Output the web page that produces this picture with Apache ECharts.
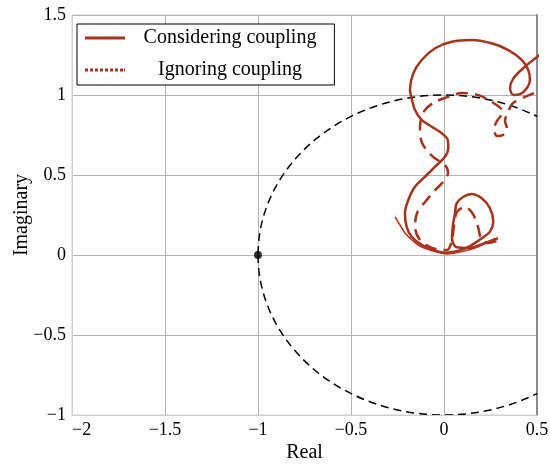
<!DOCTYPE html>
<html>
<head>
<meta charset="utf-8">
<script src="https://cdn.jsdelivr.net/npm/echarts@6/dist/echarts.min.js"></script>
<style>
	html, body { margin: 0; padding: 0; background: #fff; }
	#main { width: 550px; height: 465px; }
</style>
</head>
<body>
<div id="main"></div>
<script>
// 考虑耦合 (solid) – [real, imag]
var considering = [
	[0.559, 1.294], [0.498, 1.236], [0.435, 1.177], [0.373, 1.104], [0.355, 1.042],
	[0.373, 1.000], [0.409, 1.006], [0.445, 1.042], [0.462, 1.094], [0.453, 1.156],
	[0.418, 1.219], [0.346, 1.281], [0.256, 1.323], [0.149, 1.344], [0.041, 1.333],
	[-0.048, 1.292], [-0.120, 1.219], [-0.165, 1.136], [-0.183, 1.031], [-0.174, 0.979],
	[-0.156, 0.906], [-0.120, 0.844], [-0.066, 0.802], [-0.012, 0.761], [0.020, 0.719],
	[0.023, 0.667], [0.005, 0.614], [-0.048, 0.552], [-0.093, 0.500], [-0.156, 0.427],
	[-0.192, 0.344], [-0.210, 0.261], [-0.201, 0.177], [-0.174, 0.114], [-0.120, 0.063],
	[-0.058, 0.031], [0.005, 0.014], [0.075, 0.025], [0.140, 0.056], [0.203, 0.104],
	[0.247, 0.146], [0.265, 0.208], [0.247, 0.292], [0.203, 0.354], [0.149, 0.381],
	[0.104, 0.364], [0.068, 0.323], [0.059, 0.261], [0.048, 0.188], [0.043, 0.106],
	[0.065, 0.050], [0.140, 0.044], [0.220, 0.075], [0.290, 0.106]
];
// low tail of the solid curve
var consideringTail = [
	[-0.263, 0.239], [-0.237, 0.188], [-0.210, 0.138], [-0.172, 0.094], [-0.129, 0.056],
	[-0.048, 0.021], [0.016, 0.006], [0.097, 0.021], [0.183, 0.052], [0.274, 0.104]
];
// 忽略耦合 (dashed)
var ignoring = [
	[0.581, 1.044], [0.500, 1.019], [0.435, 0.988], [0.371, 0.950], [0.344, 0.894],
	[0.328, 0.838], [0.339, 0.788], [0.317, 0.750], [0.285, 0.744], [0.269, 0.788],
	[0.285, 0.838], [0.317, 0.894], [0.258, 0.956], [0.183, 1.000], [0.097, 1.013],
	[0.022, 0.988], [-0.059, 0.950], [-0.113, 0.888], [-0.129, 0.794], [-0.118, 0.700],
	[-0.059, 0.613], [0.005, 0.563], [0.022, 0.513], [-0.005, 0.456], [-0.048, 0.406],
	[-0.102, 0.331], [-0.145, 0.263], [-0.156, 0.175], [-0.129, 0.094], [-0.065, 0.044],
	[0.016, 0.031], [0.043, 0.094], [0.054, 0.188], [0.070, 0.269], [0.113, 0.300],
	[0.156, 0.256], [0.183, 0.175], [0.199, 0.106], [0.237, 0.075], [0.301, 0.094]
];
var criticalPoint = [[-1, 0]];
var unitCircle = [[0, 0, 1]]; // centre re, centre im, radius
var seriesNames = ['Considering coupling', 'Ignoring coupling'];

var font = 'Liberation Serif';
var red = '#a8331c';
// legend icons: solid bar and dotted bar
var solidIcon = 'path://M0,0h40v3h-40z';
var dotIcon = 'path://M0,0h3v3h-3z M5,0h3v3h-3z M10,0h3v3h-3z M15,0h3v3h-3z M20,0h3v3h-3z M25,0h3v3h-3z M30,0h3v3h-3z M35,0h3v3h-3z M39,0h1v3h-1z';

function fmt(v) {
	return String(v).replace('-', '\u2212');
}

function drawCircle(params, api) {
	var c = api.coord([api.value(0), api.value(1)]);
	var s = api.size([api.value(2), api.value(2)]);
	var rx = s[0], ry = s[1];
	var d = 'M' + (c[0] - rx) + ' ' + c[1] +
		' A' + rx + ' ' + ry + ' 0 1 0 ' + (c[0] + rx) + ' ' + c[1] +
		' A' + rx + ' ' + ry + ' 0 1 0 ' + (c[0] - rx) + ' ' + c[1] + ' Z';
	return {
		type: 'path',
		shape: { pathData: d },
		style: { fill: 'none', stroke: '#000', lineWidth: 1.5, lineDash: [8, 5] }
	};
}

var myChart = echarts.init(document.getElementById('main'));
var option = {
	animation: false,
	textStyle: { fontFamily: font },
	grid: {
		left: 72, right: 13, top: 15, bottom: 50,
		containLabel: false, outerBoundsMode: 'none',
		show: true, borderColor: '#cfcfcf', borderWidth: 1
	},
	legend: {
		left: 77, top: 24, orient: 'vertical',
		backgroundColor: '#fff', borderColor: '#000', borderWidth: 1,
		borderRadius: 0,
		padding: [4, 18, 5, 8],
		itemGap: 12, itemWidth: 40, itemHeight: 3,
		symbolKeepAspect: false,
		formatter: '{a|{name}}',
		textStyle: {
			rich: { a: { fontFamily: font, fontSize: 20, color: '#000', width: 200, align: 'center' } }
		},
		data: [
			{ name: seriesNames[0], icon: solidIcon, itemStyle: { color: red } },
			{ name: seriesNames[1], icon: dotIcon, itemStyle: { color: red } }
		]
	},
	xAxis: {
		type: 'value', min: -2, max: 0.5, interval: 0.5,
		name: 'Real', nameLocation: 'middle', nameGap: 28, nameMoveOverlap: false,
		nameTextStyle: { fontFamily: font, fontSize: 20, color: '#000' },
		axisLine: { show: true, onZero: false, lineStyle: { color: '#cfcfcf' } },
		axisTick: { show: false },
		axisLabel: { fontFamily: font, fontSize: 18, color: '#000', margin: 6,
			formatter: fmt, alignMinLabel: 'left' },
		splitLine: { lineStyle: { color: '#b4b4b4' } }
	},
	yAxis: [{
		type: 'value', min: -1, max: 1.5, interval: 0.5,
		name: 'Imaginary', nameLocation: 'middle', nameGap: 40, nameMoveOverlap: false,
		nameTextStyle: { fontFamily: font, fontSize: 20, color: '#000' },
		axisLine: { show: true, onZero: false, lineStyle: { color: '#cfcfcf' } },
		axisTick: { show: false },
		axisLabel: { fontFamily: font, fontSize: 18, color: '#000', margin: 6, formatter: fmt },
		splitLine: { lineStyle: { color: '#b4b4b4' } }
	}, {
		type: 'value', min: -1, max: 1.5, interval: 0.5, position: 'right',
		axisLine: { show: true, onZero: false, lineStyle: { color: '#8a8a8a', width: 2 } },
		axisTick: { show: false }, axisLabel: { show: false }, splitLine: { show: false }
	}],
	series: [{
		type: 'custom', name: 'circle', renderItem: drawCircle,
		data: unitCircle, clip: true, silent: true
	}, {
		type: 'line', name: seriesNames[0], data: considering,
		symbol: 'none', smooth: 0.3, clip: true,
		lineStyle: { color: red, width: 2.5 }, itemStyle: { color: red }
	}, {
		type: 'line', name: seriesNames[0], data: consideringTail,
		symbol: 'none', smooth: 0.3, clip: true,
		lineStyle: { color: '#c42a1c', width: 1.5 }, itemStyle: { color: red }
	}, {
		type: 'line', name: seriesNames[1], data: ignoring,
		symbol: 'none', smooth: 0.3, clip: true,
		lineStyle: { color: red, width: 2.5, type: [12, 7] }, itemStyle: { color: red }
	}, {
		type: 'scatter', name: 'point', data: criticalPoint,
		symbolSize: 8, itemStyle: { color: '#000' }
	}]
};
myChart.setOption(option);
</script>
</body>
</html>
